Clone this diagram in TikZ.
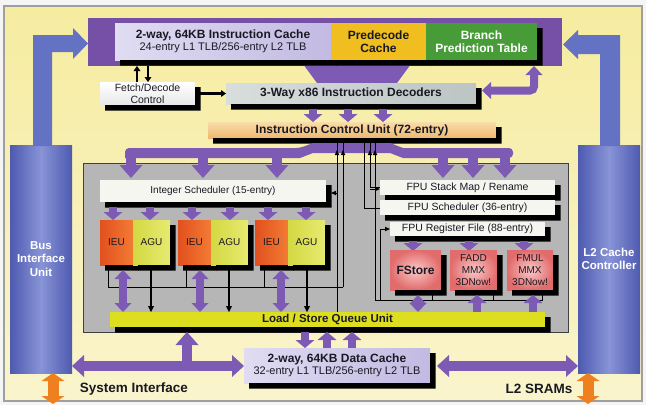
\documentclass[tikz,border=0pt]{standalone}
\usepackage{fontspec}
\setmainfont{Liberation Sans}
\usetikzlibrary{arrows.meta,calc}
\definecolor{pur}{RGB}{125,90,180}
\definecolor{purtop}{RGB}{118,80,166}
\definecolor{bluD}{RGB}{78,90,176}
\definecolor{bluL}{RGB}{136,148,214}
\definecolor{bluA}{RGB}{100,114,196}
\definecolor{orng}{RGB}{238,128,32}
\definecolor{bgyA}{RGB}{246,236,160}
\definecolor{bgyB}{RGB}{249,244,204}
\definecolor{icL}{RGB}{224,220,242}
\definecolor{icR}{RGB}{194,186,226}
\definecolor{pdcY}{RGB}{240,190,30}
\definecolor{bptG}{RGB}{72,156,56}
\definecolor{decL}{RGB}{216,222,220}
\definecolor{decR}{RGB}{188,196,196}
\definecolor{icuT}{RGB}{249,220,168}
\definecolor{icuB}{RGB}{238,184,112}
\definecolor{panelG}{RGB}{182,182,182}
\definecolor{ieuL}{RGB}{226,80,30}
\definecolor{ieuR}{RGB}{242,124,52}
\definecolor{aguL}{RGB}{212,216,66}
\definecolor{aguR}{RGB}{230,234,112}
\definecolor{pinkL}{RGB}{250,200,200}
\definecolor{pinkD}{RGB}{226,108,108}
\definecolor{lsqY}{RGB}{222,222,32}
\definecolor{schW}{RGB}{246,246,240}
\definecolor{txt}{RGB}{25,25,35}
\newcommand{\ftTitle}{\fontsize{12}{13.5}\selectfont\bfseries}
\newcommand{\ftSub}{\fontsize{11}{13}\selectfont\mdseries}
\newcommand{\ftMid}{\fontsize{10}{12}\selectfont}
\newcommand{\ftFpu}{\fontsize{10.5}{12}\selectfont}
\newcommand{\ftBig}{\fontsize{12}{14}\selectfont\bfseries}
\newcommand{\ftLsq}{\fontsize{11.5}{13}\selectfont\bfseries}
\newcommand{\ftSide}{\fontsize{11.5}{13.5}\selectfont\bfseries}
\newcommand{\ftExt}{\fontsize{13.5}{15}\selectfont\bfseries}
% black drop shadow (L-shaped) drawn after the node, right and down
\newcommand{\shd}[1]{\fill[black] ([shift={(0,5)}]#1.north east) -- ([shift={(5.5,5)}]#1.north east) -- ([shift={(5.5,5.5)}]#1.south east) -- ([shift={(5,5.5)}]#1.south west) -- ([shift={(5,0)}]#1.south west) -- (#1.south east) -- cycle;}
\begin{document}
\begin{tikzpicture}[x=1pt,y=-1pt,
  blk/.style={inner sep=0pt,outer sep=0pt,align=center,text=txt},
  pa/.style={draw=pur,line width=8pt,-{Triangle[length=8pt,width=19pt,line width=0pt]}},
  pad/.style={draw=pur,line width=8pt,{Triangle[length=9pt,width=17pt,line width=0pt]}-{Triangle[length=9pt,width=17pt,line width=0pt]}},
  pb/.style={draw=pur,line width=10pt,-{Triangle[length=13pt,width=23pt,line width=0pt]}},
  pbd/.style={draw=pur,line width=10pt,{Triangle[length=12pt,width=22pt,line width=0pt]}-{Triangle[length=12pt,width=22pt,line width=0pt]}},
  oad/.style={draw=orng,line width=11pt,{Triangle[length=8pt,width=23pt,line width=0pt]}-{Triangle[length=8pt,width=23pt,line width=0pt]}},
  blarrow/.style={draw=black,line width=2.2pt,-{Triangle[length=5pt,width=7pt,line width=0pt]}},
  bla/.style={draw=black,line width=1.6pt,-{Triangle[length=6pt,width=6pt,line width=0pt]}},
  tl/.style={draw=black,line width=0.9pt},
  tla/.style={draw=black,line width=0.9pt,-{Triangle[length=5pt,width=4.5pt,line width=0pt]}},
]
\useasboundingbox (0,0) rectangle (646,405);
% background
\fill[white!92!gray] (0,0) rectangle (646,405);
\draw[gray!75,line width=1.2pt,top color=bgyA,bottom color=bgyB] (4,6) rectangle (642,401);

% blue side units and their arrows
\node[blk,left color=bluD,right color=bluD,middle color=bluL,minimum width=62,minimum height=228,text=white,font=\ftSide] (biu) at (41,259) {Bus\\Interface\\Unit};
\node[blk,left color=bluD,right color=bluD,middle color=bluL,minimum width=62,minimum height=228,text=white,font=\ftSide] (l2c) at (609,259) {L2 Cache\\Controller};
\fill[bluA] (33,146) -- (33,35) -- (73,35) -- (73,28) -- (88,43.5) -- (73,59) -- (73,52) -- (52,52) -- (52,146) -- cycle;
\fill[bluA] (620,146) -- (620,35) -- (578,35) -- (578,30) -- (563,44.5) -- (578,59) -- (578,54) -- (600,54) -- (600,146) -- cycle;

% top block
\node[blk,fill=purtop,minimum width=474,minimum height=48] (topblk) at (325,42) {};
\fill[pur] (303,64) -- (411,64) -- (397,83) -- (317,83) -- cycle;
\node[blk,left color=icL,right color=icR,minimum width=216,minimum height=37,font=\ftTitle] (ic) at (223,41.5)
  {2-way, 64KB Instruction Cache\\[-1pt]\ftSub 24-entry L1 TLB/256-entry L2 TLB};
\shd{ic}
\node[blk,fill=pdcY,minimum width=95,minimum height=37,font=\ftTitle] (pdc) at (378.5,41.5) {Predecode\\Cache};
\shd{pdc}
\node[blk,fill=bptG,text=white,minimum width=111,minimum height=37,font=\ftTitle] (bpt) at (481.5,41.5) {Branch\\Prediction Table};
\shd{bpt}

% fetch / decoders / ICU
\node[blk,top color=white,bottom color=gray!18,minimum width=95,minimum height=23,font=\ftFpu] (fdc) at (147.5,93.5) {Fetch/Decode\\Control};
\shd{fdc}
\node[blk,left color=decL,right color=decR,minimum width=250,minimum height=21,font=\ftBig] (dec) at (351,93.5) {3-Way x86 Instruction Decoders};
\shd{dec}
\draw[blarrow] (137,0 |- fdc.north) -- (137,66);
\draw[blarrow] (148,66) -- (148,0 |- fdc.north);
\draw[blarrow] (fdc.east) ++(5,0) -- (dec.west);
\draw[pad,rounded corners=4pt] (482,90.5) -- (534,90.5) -- (534,0 |- topblk.south);
\node[blk,top color=icuT,bottom color=icuB,minimum width=288,minimum height=16,font=\ftBig] (icu) at (352,130) {Instruction Control Unit (72-entry)};
\shd{icu}
\foreach \xx in {313,348,383} \draw[pa] (\xx,109) -- (\xx,0 |- icu.north);

% execution core panel
\node[draw=gray!50!black,fill=panelG,minimum width=485,minimum height=169,inner sep=0pt] (core) at (325.5,247.5) {};

% purple bus from ICU
\fill[pur,rounded corners=4pt] (125,158) -- (125,148) -- (300,148) [sharp corners]-- (313,143) -- (390,143) -- (403,148) [rounded corners=4pt]-- (513,148) -- (513,158) [sharp corners]-- (403,158) -- (390,153) -- (313,153) -- (300,158) -- cycle;
\foreach \xx in {131,203,277,443,473,505} \draw[pb] (\xx,152) -- (\xx,178);

% integer side
\node[blk,fill=schW,minimum width=226,minimum height=22,font=\ftMid] (isch) at (213,191) {Integer Scheduler (15-entry)};
\shd{isch}
\foreach \xx in {113,150,192,230,268,306} \draw[pa] (\xx,207) -- (\xx,220);
\foreach \cx/\nm in {116.5/1,194.5/2,271.5/3}{
  \node[blk,left color=ieuL,right color=ieuR,minimum width=33,minimum height=45,font=\ftMid] (ieu\nm) at (\cx,242.5) {IEU};
  \shd{ieu\nm}
  \node[blk,left color=aguL,right color=aguR,minimum width=37,minimum height=45,font=\ftMid] (agu\nm) at (\cx+35,242.5) {AGU};
  \shd{agu\nm}
}

% FPU side
\node[blk,fill=schW,minimum width=175,minimum height=15,font=\ftFpu] (fsm) at (467.5,187.5) {FPU Stack Map / Rename};
\shd{fsm}
\node[blk,fill=schW,minimum width=175,minimum height=15,font=\ftFpu] (fsch) at (467.5,207.5) {FPU Scheduler (36-entry)};
\shd{fsch}
\node[blk,fill=schW,minimum width=155,minimum height=14,font=\ftFpu] (frf) at (467.5,229) {FPU Register File (88-entry)};
\shd{frf}
\foreach \xx in {413,469,524} \draw[pa] (\xx,241) -- (\xx,251);
\node[blk,inner color=pinkL,outer color=pinkD,minimum width=51,minimum height=40,font=\ftBig] (fst) at (415.5,270) {FStore};
\shd{fst}
\node[blk,inner color=pinkL,outer color=pinkD,minimum width=47,minimum height=40,font=\ftMid] (fadd) at (473.5,270) {FADD\\MMX\\3DNow!};
\shd{fadd}
\node[blk,inner color=pinkL,outer color=pinkD,minimum width=46,minimum height=40,font=\ftMid] (fmul) at (530,270) {FMUL\\MMX\\3DNow!};
\shd{fmul}

% load/store queue
\node[blk,fill=lsqY,minimum width=435,minimum height=15,font=\ftLsq] (lsq) at (327.5,319.5) {Load / Store Queue Unit};
\shd{lsq}

% thin black lines (ICU <-> schedulers, result buses)
\coordinate (icub) at (0,141);
\draw[tl] (108,0 |- ieu1.south) ++(0,5) -- (108,287) -- (343,287);
\draw[tl] (186,0 |- ieu2.south) ++(0,5) -- (186,287);
\draw[tl] (264,0 |- ieu3.south) ++(0,5) -- (264,287);
\draw[tl] (343,287) -- (343,0 |- icub);
\draw[tl] (337,0 |- lsq.north) -- (337,0 |- icub);
\draw[tla] (337,193) -- (331,193);
\draw[tl] (fsch.west) ++(0,0.5) -| (364,0 |- icub);
\draw[tl] (370,0 |- icub) |- (fsm.west);
\draw[tla] (370,189) -- (fsm.west |- 0,189);
\draw[tl] (542,0 |- fst.south) ++(0,5) -- (542,300) -- (375,300) -- (375,0 |- icub);
\draw[tla] (380,300) |- (frf.west);
\draw[tl] (432,0 |- fst.south) ++(0,5) -- (432,300);
\draw[tl] (493,0 |- fst.south) ++(0,5) -- (493,300);
\foreach \xx in {337,343,370,375} \draw[tla] (\xx,160) -- (\xx,150);
\foreach \xx in {151,229,307} \draw[bla] (\xx,270) -- (\xx,0 |- lsq.north);

% purple links to the load/store queue
\foreach \xx in {123,200,281} \draw[pad] (\xx,270) -- (\xx,0 |- lsq.north);
\draw[pad] (418,295) -- (418,0 |- lsq.north);
\draw[pa] (477,0 |- lsq.north) -- (477,295);
\draw[pa] (533,0 |- lsq.north) -- (533,295);

% data cache
\node[blk,left color=icL,right color=icR,minimum width=186,minimum height=35,font=\ftTitle] (dc) at (337,365.5)
  {2-way, 64KB Data Cache\\[-1pt]\ftSub 32-entry L1 TLB/256-entry L2 TLB};
\shd{dc}
\draw[pa] (305,332) -- (305,0 |- dc.north);
\draw[pa] (327,0 |- dc.north) -- (327,332);
\draw[pa] (352,0 |- dc.north) -- (352,332);
\draw[pbd] (biu.east |- 0,366) -- (dc.west |- 0,366);
\draw[pb] (187,366) -- (187,332);
\draw[pbd] (437,366) -- (l2c.west |- 0,366);

% external interfaces
\draw[oad] (53,0 |- biu.south) -- (53,404);
\draw[oad] (588,0 |- l2c.south) -- (588,404);
\node[text=txt,inner sep=0pt,font=\ftExt] (sysi) at (134,389) {System Interface};
\node[text=txt,inner sep=0pt,font=\ftExt] (sram) at (539,389) {L2 SRAMs};
\end{tikzpicture}
\end{document}
